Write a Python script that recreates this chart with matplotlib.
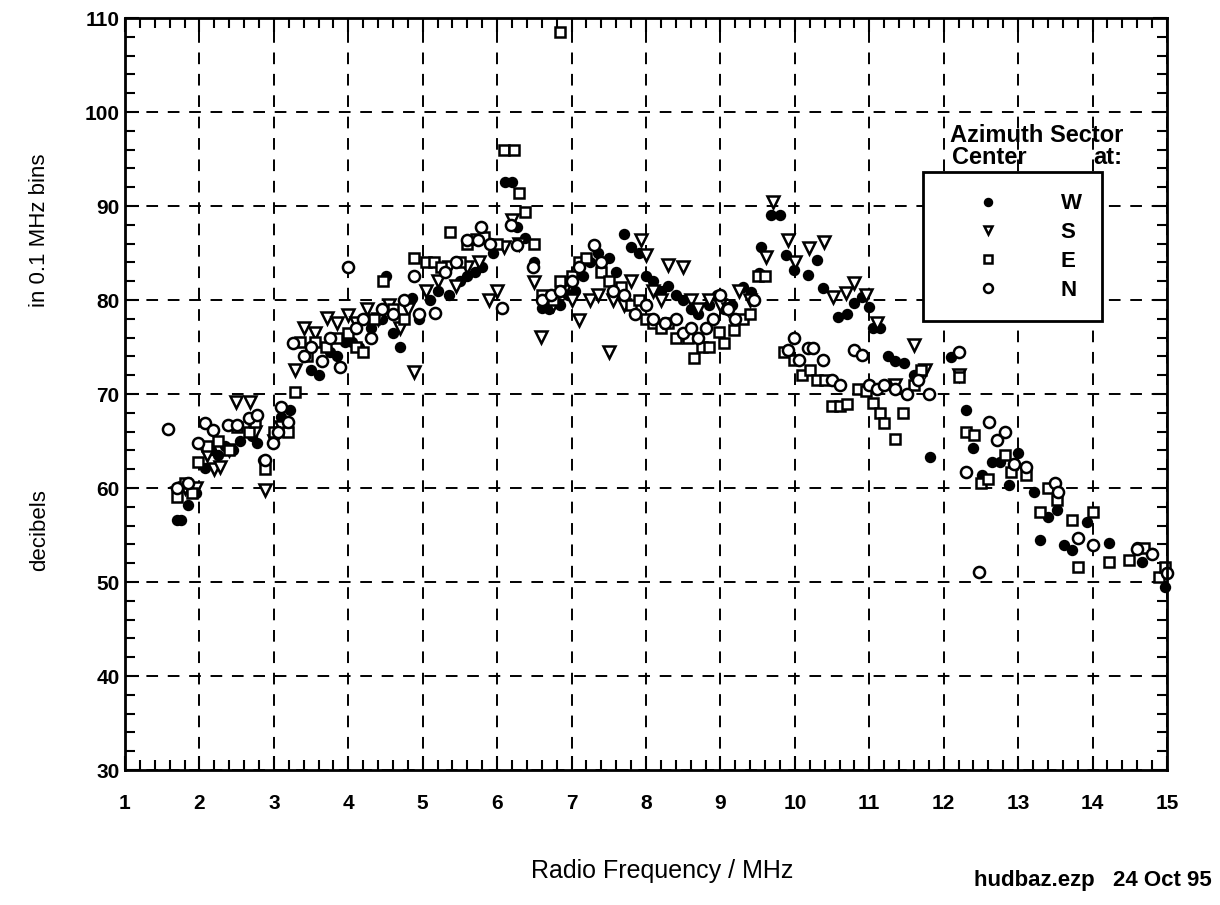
import matplotlib
matplotlib.use("Agg")
import matplotlib.pyplot as plt
from matplotlib.ticker import MultipleLocator

plt.rcParams['font.family'] = ['Liberation Sans', 'DejaVu Sans']

# ---- data ----
w_x = [1.70, 1.75, 1.85, 1.95, 2.08, 2.15, 2.25, 2.35, 2.45, 2.55, 2.70, 2.78, 2.85, 3.00, 3.10, 3.22,
       3.35, 3.50, 3.60, 3.75, 3.85, 3.95, 4.05, 4.15, 4.30, 4.45, 4.50, 4.60, 4.70, 4.86, 4.95, 5.10,
       5.20, 5.35, 5.50, 5.60, 5.70, 5.80, 5.95, 6.10, 6.20, 6.27, 6.38, 6.50, 6.60, 6.70, 6.85, 6.95,
       7.05, 7.15, 7.25, 7.35, 7.50, 7.60, 7.70, 7.80, 7.90, 8.00, 8.10, 8.20, 8.30, 8.40, 8.50, 8.60,
       8.70, 8.85, 8.95, 9.05, 9.15, 9.30, 9.41, 9.52, 9.55, 9.68, 9.80, 9.88, 9.99, 10.18, 10.30, 10.38,
       10.58, 10.70, 10.80, 10.90, 11.00, 11.05, 11.15, 11.25, 11.35, 11.47, 11.60, 11.70, 11.81, 12.10,
       12.20, 12.30, 12.40, 12.51, 12.65, 12.75, 12.88, 13.00, 13.21, 13.29, 13.40, 13.52, 13.61, 13.72,
       13.92, 14.22, 14.60, 14.66, 14.80, 14.97]
w_y = [56.6, 56.6, 58.2, 59.5, 62.1, 64.0, 63.5, 64.5, 64.0, 65.0, 65.5, 64.8, 63.0, 65.8, 67.5, 68.3,
       75.5, 72.5, 72.0, 74.5, 74.0, 75.5, 75.5, 75.0, 77.0, 78.0, 82.5, 76.5, 75.0, 80.2, 78.0, 80.0,
       81.0, 80.5, 82.0, 82.5, 83.0, 83.5, 85.0, 92.5, 92.5, 87.8, 86.6, 84.0, 79.2, 79.0, 79.5, 80.5,
       81.0, 82.5, 84.0, 85.0, 84.5, 83.0, 87.0, 85.6, 85.0, 82.5, 82.0, 81.0, 81.5, 80.5, 80.0, 79.0,
       78.5, 79.5, 80.5, 79.0, 79.5, 81.4, 80.9, 82.9, 85.6, 89.0, 89.0, 84.8, 83.2, 82.7, 84.3, 81.3,
       78.2, 78.5, 79.7, 80.3, 79.3, 77.0, 77.0, 74.0, 73.5, 73.3, 72.0, 72.5, 63.3, 73.9,
       72.0, 68.3, 64.3, 61.4, 62.8, 62.8, 60.3, 63.7, 59.6, 54.5, 56.9, 57.7, 53.9, 53.4,
       56.4, 54.1, 53.7, 52.1, 53.1, 49.5]

s_x = [1.70, 1.80, 1.95, 2.10, 2.20, 2.28, 2.40, 2.49, 2.68, 2.75, 2.88, 3.00, 3.10, 3.29, 3.40, 3.55,
       3.72, 3.85, 3.99, 4.10, 4.25, 4.40, 4.55, 4.70, 4.80, 4.88, 5.05, 5.20, 5.35, 5.45, 5.60, 5.75,
       5.89, 6.00, 6.09, 6.20, 6.30, 6.49, 6.59, 6.75, 6.90, 7.00, 7.10, 7.25, 7.35, 7.50, 7.55, 7.70,
       7.80, 7.93, 8.00, 8.10, 8.20, 8.29, 8.50, 8.60, 8.70, 8.85, 9.00, 9.10, 9.25, 9.40, 9.61, 9.71,
       9.91, 10.00, 10.19, 10.39, 10.51, 10.69, 10.80, 10.95, 11.10, 11.35, 11.60, 11.75, 12.20]
s_y = [59.5, 60.0, 60.0, 63.5, 62.0, 62.2, 64.0, 69.1, 69.1, 66.0, 59.8, 65.0, 66.5, 72.6, 77.0, 76.5,
       78.1, 77.5, 78.4, 77.5, 79.0, 78.0, 79.5, 77.0, 79.0, 72.3, 81.0, 82.0, 83.5, 81.5, 83.5, 84.0,
       80.0, 81.0, 85.6, 88.5, 86.0, 81.9, 76.1, 79.5, 81.0, 80.0, 77.9, 80.0, 80.5, 74.5, 80.0, 79.5,
       82.0, 86.4, 84.8, 81.0, 80.0, 83.7, 83.5, 80.0, 79.0, 80.0, 79.5, 79.0, 81.0, 80.0, 84.6, 90.4,
       86.4, 84.0, 85.5, 86.2, 80.3, 80.7, 81.8, 80.5, 77.5, 71.0, 75.2, 72.5, 72.0]

e_x = [1.70, 1.80, 1.90, 1.98, 2.10, 2.25, 2.40, 2.50, 2.66, 2.75, 2.88, 3.00, 3.19, 3.29, 3.35, 3.45,
       3.55, 3.70, 3.85, 4.00, 4.10, 4.20, 4.35, 4.47, 4.60, 4.75, 4.88, 5.05, 5.15, 5.25, 5.37, 5.50,
       5.60, 5.72, 5.82, 6.00, 6.09, 6.22, 6.29, 6.38, 6.49, 6.60, 6.75, 6.85, 7.00, 7.10, 7.20, 7.40,
       7.50, 7.66, 7.80, 7.90, 8.00, 8.10, 8.20, 8.30, 8.40, 8.56, 8.65, 8.75, 8.85, 8.98, 9.05, 9.18,
       9.30, 9.40, 9.50, 9.60, 9.85, 9.99, 10.10, 10.20, 10.30, 10.40, 10.50, 10.60, 10.70, 10.85, 10.95,
       11.05, 11.15, 11.20, 11.35, 11.45, 11.60, 11.70, 12.20, 12.30, 12.41, 12.50, 12.60, 12.82, 12.91,
       13.11, 13.29, 13.40, 13.52, 13.72, 13.81, 14.01, 14.22, 14.49, 14.69, 14.89, 14.97, 6.85]
e_y = [59.0, 60.5, 59.5, 62.8, 64.5, 65.0, 64.0, 66.5, 66.0, 67.0, 62.0, 66.0, 66.0, 70.2, 75.5, 74.0,
       75.5, 75.0, 76.0, 76.5, 75.0, 74.5, 78.0, 82.0, 79.0, 78.0, 84.5, 84.0, 84.0, 83.5, 87.2, 84.0,
       86.0, 86.5, 86.7, 86.0, 96.0, 96.0, 91.4, 89.4, 86.0, 80.5, 80.0, 82.0, 82.5, 84.0, 84.5, 83.0,
       82.0, 81.4, 79.5, 80.0, 78.0, 77.5, 77.0, 77.5, 76.0, 76.0, 73.8, 75.0, 75.0, 76.6, 75.4, 76.8,
       78.0, 78.5, 82.5, 82.5, 74.5, 73.6, 72.0, 72.5, 71.5, 71.5, 68.7, 68.7, 68.9, 70.5, 70.3,
       69.0, 68.0, 66.9, 65.2, 68.0, 71.0, 72.5, 71.8, 66.0, 65.6, 60.5, 61.0, 63.5, 61.7,
       61.4, 57.4, 60.0, 58.7, 56.6, 51.6, 57.4, 52.1, 52.3, 53.6, 50.5, 51.6, 108.5]

n_x = [1.58, 1.70, 1.85, 1.98, 2.08, 2.18, 2.39, 2.51, 2.66, 2.78, 2.88, 2.99, 3.05, 3.09, 3.19, 3.26,
       3.40, 3.50, 3.65, 3.75, 3.89, 4.00, 4.10, 4.20, 4.30, 4.45, 4.60, 4.75, 4.88, 4.95, 5.17, 5.30,
       5.45, 5.60, 5.74, 5.78, 5.90, 6.07, 6.18, 6.27, 6.48, 6.60, 6.72, 6.85, 7.00, 7.10, 7.30, 7.40,
       7.55, 7.70, 7.85, 8.00, 8.10, 8.25, 8.40, 8.50, 8.60, 8.70, 8.80, 8.90, 9.00, 9.10, 9.20, 9.45,
       9.91, 9.99, 10.05, 10.18, 10.25, 10.38, 10.50, 10.60, 10.80, 10.90, 11.00, 11.10, 11.20, 11.35,
       11.50, 11.65, 11.80, 12.21, 12.30, 12.48, 12.61, 12.71, 12.82, 12.95, 13.11, 13.50, 13.54, 13.81,
       14.01, 14.60, 14.80, 15.00]
n_y = [66.3, 60.0, 60.5, 64.8, 66.9, 66.2, 66.7, 66.7, 67.4, 67.8, 63.0, 64.8, 66.0, 68.6, 67.0, 75.4,
       74.0, 75.0, 73.5, 76.0, 72.9, 83.5, 77.0, 78.0, 76.0, 79.0, 78.5, 80.0, 82.5, 78.5, 78.6, 83.0,
       84.0, 86.4, 86.4, 87.8, 86.0, 79.1, 88.0, 85.8, 83.5, 80.0, 80.5, 81.0, 82.0, 83.5, 85.9, 84.0,
       81.0, 80.5, 78.5, 79.5, 78.0, 77.5, 78.0, 76.5, 77.0, 76.0, 77.0, 78.0, 80.5, 79.0, 78.0, 80.0,
       74.7, 76.0, 73.6, 74.9, 74.9, 73.6, 71.5, 71.0, 74.7, 74.2, 71.0, 70.5, 71.0, 70.5,
       70.0, 71.5, 70.0, 74.5, 61.7, 51.1, 67.0, 65.1, 66.0, 62.5, 62.2, 60.5, 59.6, 54.7,
       53.9, 53.5, 53.0, 51.0]

series_labels = ['W', 'S', 'E', 'N']
x_ticks = list(range(1, 16))
y_ticks = [30, 40, 50, 60, 70, 80, 90, 100, 110]

# ---- figure ----
fig = plt.figure(figsize=(12.2, 9.05), dpi=100)
ax = fig.add_axes([125 / 1220, 1 - 770 / 905, (1167 - 125) / 1220, (770 - 18) / 905])

ms = 7
hW, = ax.plot(w_x, w_y, 'o', ms=ms, mfc='black', mec='black', mew=1.2, ls='none', clip_on=False)
hS, = ax.plot(s_x, s_y, 'v', ms=ms + 1, mfc='white', mec='black', mew=1.8, ls='none', clip_on=False)
hE, = ax.plot(e_x, e_y, 's', ms=ms, mfc='white', mec='black', mew=1.8, ls='none', clip_on=False)
hN, = ax.plot(n_x, n_y, 'o', ms=ms + 1, mfc='white', mec='black', mew=1.8, ls='none', clip_on=False)

ax.set_xlim(1, 15)
ax.set_ylim(30, 110)
ax.set_xticks(x_ticks)
ax.set_yticks(y_ticks)
ax.xaxis.set_minor_locator(MultipleLocator(0.2))
ax.yaxis.set_minor_locator(MultipleLocator(2))
ax.tick_params(which='both', direction='in', top=True, right=True, width=1.5, color='black')
ax.tick_params(which='major', length=10, labelsize=15)
ax.tick_params(axis='x', which='major', pad=17)
ax.tick_params(axis='y', which='major', pad=4)
ax.tick_params(which='minor', length=7)
for lab in ax.get_xticklabels() + ax.get_yticklabels():
    lab.set_fontweight('bold')
for sp in ax.spines.values():
    sp.set_linewidth(2)
    sp.set_color('black')

ax.grid(True, which='major', color='black', linestyle=(0, (6, 5)), linewidth=1.4)
ax.set_axisbelow(True)

# axis labels
fig.text(662 / 1220, 1 - 871 / 905, 'Radio Frequency / MHz', ha='center', va='center', fontsize=18)
fig.text(40 / 1220, 1 - 230 / 905, 'in 0.1 MHz bins', ha='center', va='center', rotation=90, fontsize=16)
fig.text(40 / 1220, 1 - 530 / 905, 'decibels', ha='center', va='center', rotation=90, fontsize=16)
fig.text(1212 / 1220, 1 - 880 / 905, 'hudbaz.ezp   24 Oct 95', ha='right', va='center',
         fontsize=16, fontweight='bold')

# legend
fig.text(950 / 1220, 1 - 136 / 905, 'Azimuth Sector', ha='left', va='center', fontsize=17, fontweight='bold')
fig.text(952 / 1220, 1 - 157 / 905, 'Center', ha='left', va='center', fontsize=17, fontweight='bold')
fig.text(1093 / 1220, 1 - 157 / 905, 'at:', ha='left', va='center', fontsize=17, fontweight='bold')
leg = ax.legend([hW, hS, hE, hN], series_labels, loc='upper left',
                bbox_to_anchor=(923 / 1220, 1 - 172 / 905), bbox_transform=fig.transFigure,
                fontsize=15, frameon=True, fancybox=False, edgecolor='black',
                handlelength=4.2, handletextpad=1.4, borderpad=1.0, labelspacing=0.38,
                borderaxespad=0, markerscale=0.8)
leg.get_frame().set_linewidth(2)
leg.get_frame().set_facecolor('white')
leg.get_frame().set_alpha(1)
leg.set_zorder(5)
for t in leg.get_texts():
    t.set_fontweight('bold')
    t.set_fontsize(16)

fig.savefig('out.png', dpi=100)
